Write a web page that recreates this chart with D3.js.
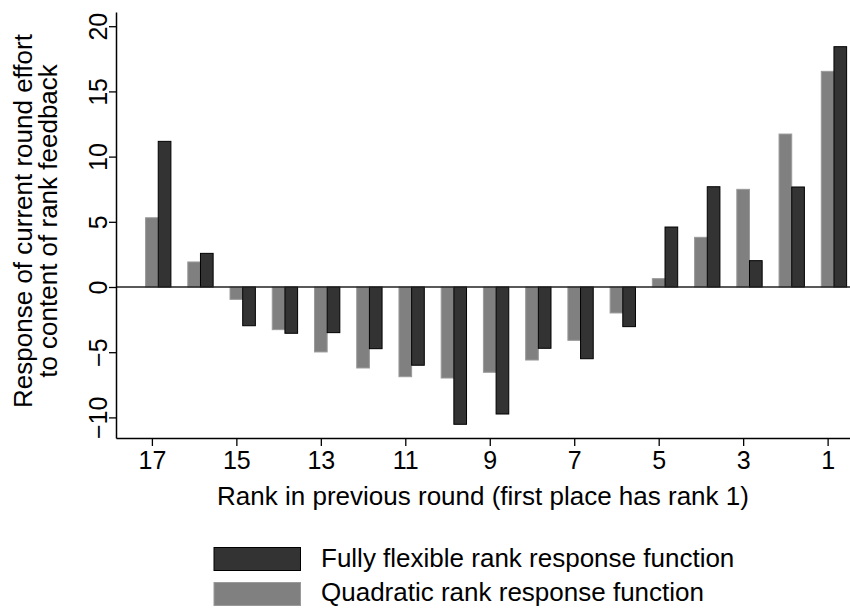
<!DOCTYPE html>
<html>
<head>
<meta charset="utf-8">
<script src="https://cdn.jsdelivr.net/npm/d3@7"></script>
<style>
    body { margin: 0; background: #fff; }
    text { font-family: "Liberation Sans", Arial, sans-serif; fill: #000; }
</style>
</head>
<body>
<div id="canvas"></div>
<script>
"use strict"
// canvas size
let svgWidth = 850;
let svgHeight = 608;

// data (rank 17 -> rank 1)
let ranks = [17, 16, 15, 14, 13, 12, 11, 10, 9, 8, 7, 6, 5, 4, 3, 2, 1];
let flexible = [11.17, 2.58, -2.97, -3.55, -3.5, -4.73, -6.0, -10.53, -9.74, -4.7, -5.5, -3.04, 4.6, 7.69, 2.02, 7.67, 18.43];
let quadratic = [5.31, 1.92, -0.95, -3.27, -4.98, -6.21, -6.88, -6.98, -6.54, -5.6, -4.09, -1.99, 0.64, 3.81, 7.49, 11.73, 16.54];
let xTicks = [17, 15, 13, 11, 9, 7, 5, 3, 1];
let yTicks = [-10, -5, 0, 5, 10, 15, 20];
let legendLabels = ["Fully flexible rank response function", "Quadratic rank response function"];

let darkFill = "#333333";
let grayFill = "#808080";

let plot = { left: 116, right: 850, top: 12, bottom: 438 };
let barW = 0.3; // bar width in rank units

let svg = d3.select("#canvas")
    .append("svg")
    .attr("width", svgWidth)
    .attr("height", svgHeight);

svg.append("rect")
    .attr("width", svgWidth)
    .attr("height", svgHeight)
    .attr("fill", "#ffffff");

// scales (rank axis runs backwards)
let xScale = d3.scaleLinear()
    .domain([17.85, 0.47])
    .range([plot.left, plot.right]);

let yScale = d3.scaleLinear()
    .domain([-11.58, 21.09])
    .range([plot.bottom, plot.top]);

let pxW = Math.abs(xScale(0) - xScale(barW));

// quadratic bars (centred on the rank)
svg.append("g").selectAll("rect")
    .data(ranks)
    .join("rect")
    .attr("x", function(d){ return xScale(d) - pxW / 2; })
    .attr("y", function(d, i){ return yScale(Math.max(0, quadratic[i])); })
    .attr("width", pxW)
    .attr("height", function(d, i){ return Math.abs(yScale(quadratic[i]) - yScale(0)); })
    .attr("fill", grayFill)
    .attr("stroke", "#9a9a9a")
    .attr("stroke-width", 1);

// flexible bars (next to the gray one)
svg.append("g").selectAll("rect")
    .data(ranks)
    .join("rect")
    .attr("x", function(d){ return xScale(d - barW) - pxW / 2; })
    .attr("y", function(d, i){ return yScale(Math.max(0, flexible[i])); })
    .attr("width", pxW)
    .attr("height", function(d, i){ return Math.abs(yScale(flexible[i]) - yScale(0)); })
    .attr("fill", darkFill)
    .attr("stroke", "#000")
    .attr("stroke-width", 1);

// zero line
svg.append("line")
    .attr("x1", plot.left).attr("x2", plot.right)
    .attr("y1", yScale(0)).attr("y2", yScale(0))
    .attr("stroke", "#222").attr("stroke-width", 1.5);

// x axis
let xAxis = d3.axisBottom(xScale).tickValues(xTicks).tickSize(8).tickPadding(5).tickSizeOuter(0);
let gx = svg.append("g")
    .attr("transform", "translate(0," + plot.bottom + ")")
    .call(xAxis);
gx.select(".domain").attr("stroke", "#000").attr("stroke-width", 1.5);
gx.selectAll(".tick line").attr("stroke", "#000").attr("stroke-width", 1.3);
gx.selectAll(".tick text")
    .style("font-size", "25px")
    .style("font-family", "'Liberation Sans', Arial, sans-serif");

// y axis with rotated labels
let yAxis = d3.axisLeft(yScale).tickValues(yTicks).tickSize(7).tickSizeOuter(0)
    .tickFormat(function(d){ return d < 0 ? "\u2212" + Math.abs(d) : d; });
let gy = svg.append("g")
    .attr("transform", "translate(" + plot.left + ",0)")
    .call(yAxis);
gy.select(".domain").attr("stroke", "#000").attr("stroke-width", 1.5);
gy.selectAll(".tick line").attr("stroke", "#000").attr("stroke-width", 1.3);
gy.selectAll(".tick text")
    .attr("x", null).attr("dy", null)
    .attr("text-anchor", "middle")
    .attr("transform", "translate(-9,0) rotate(-90)")
    .style("font-size", "25px")
    .style("font-family", "'Liberation Sans', Arial, sans-serif");

// axis titles
svg.append("text")
    .attr("x", (plot.left + plot.right) / 2)
    .attr("y", 505)
    .attr("text-anchor", "middle")
    .style("font-size", "26px")
    .text("Rank in previous round (first place has rank 1)");

let yTitle = svg.append("text")
    .attr("transform", "translate(0,221) rotate(-90)")
    .attr("text-anchor", "middle")
    .style("font-size", "26px");
yTitle.append("tspan").attr("x", 0).attr("y", 32).text("Response of current round effort");
yTitle.append("tspan").attr("x", 0).attr("y", 57).text("to content of rank feedback");

// legend
let legend = svg.append("g");
[darkFill, grayFill].forEach(function(c, i){
    legend.append("rect")
        .attr("x", 214)
        .attr("y", 547.5 + i * 35)
        .attr("width", 86.5)
        .attr("height", 23)
        .attr("fill", c)
        .attr("stroke", i == 0 ? "#000" : "#9a9a9a");
    legend.append("text")
        .attr("x", 321)
        .attr("y", 567 + i * 34)
        .style("font-size", "26px")
        .text(legendLabels[i]);
});
</script>
</body>
</html>
